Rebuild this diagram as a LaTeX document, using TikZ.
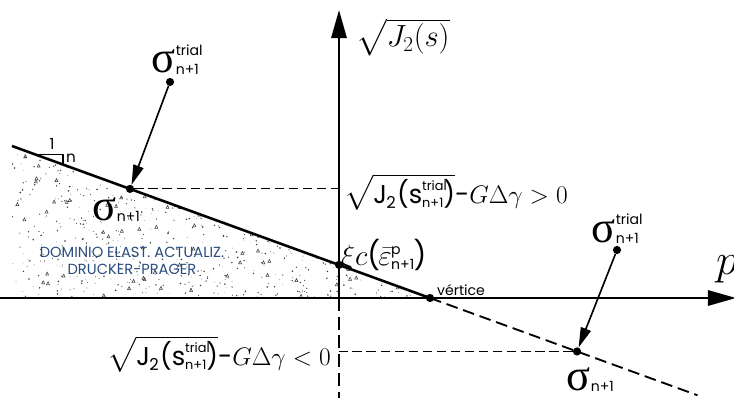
\documentclass[tikz,border=0pt]{standalone}
\usepackage{amsmath}
\usepackage{graphicx}
\usepackage{fontspec}
\usetikzlibrary{arrows.meta,calc}
\newfontfamily\geofont{Poppins}
\newfontfamily\greekserif{Liberation Serif}
\definecolor{domainblue}{HTML}{2B4C7E}
\definecolor{stipplegray}{HTML}{3A3A3A}
\newcommand{\bigsig}{{\greekserif\fontsize{38}{38}\selectfont σ}}
\newcommand{\sigtrial}{\bigsig\kern0.5pt{\geofont\fontsize{12}{12}\selectfont\rlap{\raisebox{15pt}{trial}}\raisebox{-1pt}{n+1}}}
\newcommand{\signext}{\bigsig\kern0.5pt{\geofont\fontsize{12}{12}\selectfont\raisebox{-1pt}{n+1}}}
\newcommand{\jtrial}{{\geofont\fontsize{22}{22}\selectfont J\kern-0.5pt\raisebox{-5pt}{\fontsize{14}{14}\selectfont 2}\kern1pt(s{\fontsize{11}{11}\selectfont\rlap{\raisebox{11pt}{trial}}\raisebox{-4pt}{n+1}})}}
\newcommand{\gdg}[1]{\scalebox{0.87}{$G\Delta\gamma#1 0$}}
\tikzset{
  axisline/.style={line width=2.2pt,-{Triangle[length=24pt,width=13pt]}},
  axisdash/.style={line width=1.6pt,dash pattern=on 11pt off 5pt},
  dpline/.style={line width=2.2pt},
  dpdash/.style={line width=1.6pt,dash pattern=on 10pt off 5pt},
  guidedash/.style={line width=0.9pt,dash pattern=on 8pt off 4pt},
  trialarrow/.style={line width=1.4pt,-{Triangle[length=17pt,width=9pt]}},
  ptdot/.style={circle,fill=black,inner sep=0pt,minimum size=7pt},
  sigmalabel/.style={anchor=base west,inner sep=0pt},
  formula/.style={inner sep=0pt,font=\fontsize{24}{26}\selectfont},
  smalltag/.style={inner sep=0pt,font=\geofont\fontsize{12}{12}\selectfont}
}
\begin{document}
\begin{tikzpicture}[x=0.03cm,y=-0.03cm]
  \useasboundingbox (0,0) rectangle (734,401);
  % axes
  \coordinate (O) at (339,298);
  \coordinate (axtop) at (339,10);
  \coordinate (axbot) at (339,398);
  \coordinate (axleft) at (0,298);
  \coordinate (axright) at (736,298);
  % Drucker-Prager line
  \coordinate (dpA) at (12,146);
  \node[ptdot] (vtx) at (430,298) {};
  \coordinate (mk1) at ($(dpA)!0.055!(vtx.center)$);
  \coordinate (mk2) at ($(dpA)!0.122!(vtx.center)$);
  \node[ptdot] (s1) at ($(dpA)!0.2823!(vtx.center)$) {};
  \node[ptdot] (cpt) at ($(dpA)!0.7823!(vtx.center)$) {};
  \node[ptdot] (s2) at ($(dpA)!1.3517!(vtx.center)$) {};
  \coordinate (dpEnd) at ($(dpA)!1.64!(vtx.center)$);
  \node[ptdot] (t1) at (170,82) {};
  \node[ptdot] (t2) at (617,250) {};

  % stippled elastic domain
  \begin{scope}
    \clip (dpA) -- (vtx.center) -- (12,298) -- cycle;
    \pgfmathsetseed{17}
    \foreach \k in {1,...,900}{
      \pgfmathsetmacro\px{12+418*rnd}
      \pgfmathsetmacro\py{146+152*rnd}
      \pgfmathsetmacro\pr{0.2+0.55*rnd}
      \fill[stipplegray] (\px,\py) circle (\pr pt);
    }
    \foreach \k in {1,...,90}{
      \pgfmathsetmacro\px{12+418*rnd}
      \pgfmathsetmacro\py{146+152*rnd}
      \draw[stipplegray,line width=0.45pt] (\px,\py) -- ++(3,0) -- ++(-1.4,-3) -- cycle;
    }
  \end{scope}

  \draw[axisline] (O) -- (axtop);
  \draw[axisdash] (O) -- (axbot);
  \draw[axisline] (axleft) -- (axright);
  \draw[dpline] (dpA) -- (vtx.center);
  \draw[dpdash] (vtx.center) -- (dpEnd);
  \draw[line width=0.9pt] (mk1) -| (mk2);

  \draw[guidedash] (s1) -- (s1 -| O);
  \draw[guidedash] (s2) -- (s2 -| O);
  \draw[trialarrow] (t1) -- (s1);
  \draw[trialarrow] (t2) -- (s2);

  % labels
  \node[inner sep=0pt,anchor=base west,font=\fontsize{24}{26}\selectfont] (jlbl) at (356,47) {\scalebox{1.05}{$\sqrt{J_2(s)}$}};
  \node[inner sep=0pt,anchor=base west,font=\fontsize{24}{24}\selectfont] (plbl) at (716,274) {\scalebox{1.5}{$p$}};
  \node[sigmalabel] (t1lbl) at (151,73) {\sigtrial};
  \node[sigmalabel] (s1lbl) at (92,220) {\signext};
  \node[sigmalabel] (t2lbl) at (591,242) {\sigtrial};
  \node[sigmalabel] (s2lbl) at (566,390) {\signext};
  \node[formula,anchor=base west] (gtlbl) at (344,203) {$\sqrt{\hbox{\jtrial}}${\geofont\fontsize{22}{22}\selectfont-}\gdg{>}};
  \node[formula,anchor=base east] (ltlbl) at (331,365) {$\sqrt{\hbox{\jtrial}}${\geofont\fontsize{22}{22}\selectfont-}\gdg{<}};
  \node[formula,anchor=base west] (cohlbl) at (341,265) {$\xi c${\geofont(}\kern-1.5pt$\bar{\varepsilon}$\kern-0.5pt{\geofont\fontsize{12}{12}\selectfont\rlap{\raisebox{9pt}{p}}\raisebox{-4pt}{n+1}}\kern-0.5pt{\geofont)}};
  \node[smalltag,anchor=base west] (vtxlbl) at (437,295) {vértice};
  \node[smalltag,font=\geofont\fontsize{13}{13}\selectfont] (slope1) at (52,144) {1};
  \node[smalltag,font=\geofont\fontsize{13}{13}\selectfont] (slopen) at (71,158) {n};
  \node[inner sep=0pt,align=center,text=domainblue,font=\geofont\fontsize{12.5}{15}\selectfont] (domlbl) at (132,261) {DOMINIO ELAST. ACTUALIZ.\\DRUCKER-PRAGER};
\end{tikzpicture}
\end{document}
